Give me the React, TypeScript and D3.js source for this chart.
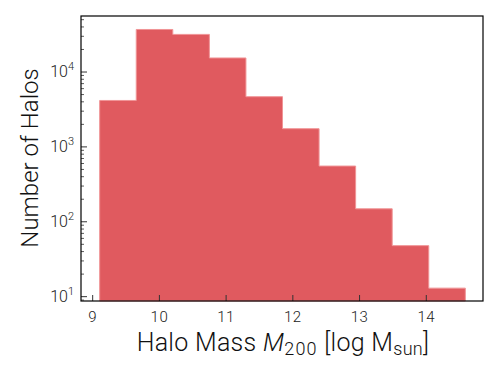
import React from "react";
import * as d3 from "d3";

const binEdges = [9.105, 9.653, 10.201, 10.749, 11.297, 11.845, 12.393, 12.941, 13.489, 14.037, 14.585];
const counts = [4170, 37000, 31800, 15400, 4680, 1750, 555, 149, 48, 13];
const xTicks = [9, 10, 11, 12, 13, 14];
const yTickExps = [1, 2, 3, 4];

export default function App() {
  const W = 500, H = 375;
  const left = 81, right = 483, top = 16, bottom = 301;
  const x = d3.scaleLinear().domain([8.825, 14.85]).range([left, right]);
  const y = d3.scaleLog().domain([8.75, 56000]).range([bottom, top]);
  const font = "Roboto, 'DejaVu Sans', sans-serif";
  const minor: number[] = [];
  for (let e = 0; e <= 4; e++) for (let m = 2; m <= 9; m++) {
    const v = m * Math.pow(10, e);
    if (v >= 8.75 && v <= 56000) minor.push(v);
  }
  const pts: [number, number][] = [[x(binEdges[0]), bottom]];
  counts.forEach((c, i) => {
    pts.push([x(binEdges[i]), y(c)]);
    pts.push([x(binEdges[i + 1]), y(c)]);
  });
  pts.push([x(binEdges[binEdges.length - 1]), bottom]);
  const path = d3.line()(pts) + "Z";
  return (
    <svg width={W} height={H} style={{ position: "absolute", left: 0, top: 0 }}>
      <rect width={W} height={H} fill="#fff" />
      <path d={path} fill="#e05a5f" stroke="#f09496" strokeWidth={1} />
      {xTicks.map(t => (
        <g key={t}>
          <line x1={x(t)} x2={x(t)} y1={bottom} y2={bottom - 6} stroke="#333" strokeWidth={1} />
          <text x={x(t)} y={322} textAnchor="middle" fontFamily={font} fontWeight={300} fontSize={15} letterSpacing={0.5} fill="#222">{t}</text>
        </g>
      ))}
      {minor.map(v => (
        <line key={v} x1={left} x2={left + 3} y1={y(v)} y2={y(v)} stroke="#333" strokeWidth={0.8} />
      ))}
      {yTickExps.map(e => (
        <g key={e}>
          <line x1={left} x2={left + 6} y1={y(Math.pow(10, e))} y2={y(Math.pow(10, e))} stroke="#333" strokeWidth={1} />
          <text x={74} y={y(Math.pow(10, e)) + 5} textAnchor="end" fontFamily={font} fontWeight={300} fontSize={16} fill="#222">
            10<tspan dy={-7} fontSize={11}>{e}</tspan>
          </text>
        </g>
      ))}
      <rect x={left} y={top} width={right - left} height={bottom - top} fill="none" stroke="#000" strokeWidth={1.2} />
      <text x={283} y={351} textAnchor="middle" fontFamily={font} fontWeight={300} fontSize={25} letterSpacing={0.3} fill="#111">
        Halo Mass <tspan fontStyle="italic">M</tspan><tspan fontSize={18} dy={4} letterSpacing={1.2}>200</tspan><tspan dy={-4}> [log M</tspan><tspan fontSize={18} dy={4}>sun</tspan><tspan dy={-4}>]</tspan>
      </text>
      <text transform={`translate(38,158) rotate(-90)`} textAnchor="middle" fontFamily={font} fontWeight={300} fontSize={24} fill="#111">
        Number of Halos
      </text>
    </svg>
  );
}
